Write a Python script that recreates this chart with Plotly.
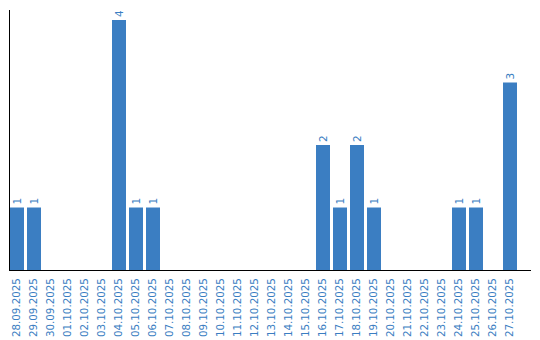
import plotly.graph_objects as go

dates = ["28.09.2025", "29.09.2025", "30.09.2025", "01.10.2025", "02.10.2025", "03.10.2025",
         "04.10.2025", "05.10.2025", "06.10.2025", "07.10.2025", "08.10.2025", "09.10.2025",
         "10.10.2025", "11.10.2025", "12.10.2025", "13.10.2025", "14.10.2025", "15.10.2025",
         "16.10.2025", "17.10.2025", "18.10.2025", "19.10.2025", "20.10.2025", "21.10.2025",
         "22.10.2025", "23.10.2025", "24.10.2025", "25.10.2025", "26.10.2025", "27.10.2025"]
counts = [1, 1, 0, 0, 0, 0, 4, 1, 1, 0, 0, 0, 0, 0, 0, 0, 0, 0,
          2, 1, 2, 1, 0, 0, 0, 0, 1, 1, 0, 3]

blue = "#3b7ec2"
labels = [str(v) if v else "" for v in counts]

fig = go.Figure(go.Bar(
    x=dates, y=counts, text=labels, textposition="outside", textangle=-90,
    textfont=dict(family="DejaVu Sans", size=10.5, color=blue),
    marker=dict(color=blue, line=dict(width=0)), cliponaxis=False,
    hoverinfo="x+y",
))

fig.update_layout(
    width=540, height=340,
    margin=dict(l=10, r=9, t=10, b=70),
    paper_bgcolor="white", plot_bgcolor="white",
    bargap=0.1765,
    showlegend=False,
    xaxis=dict(type="category", range=[-0.412, 30.235], showline=True, linecolor="black",
               linewidth=1, showgrid=False, ticks="", tickangle=-90, automargin=False,
               ticklabelstandoff=3,
               tickfont=dict(family="DejaVu Sans", size=10.3, color=blue)),
    yaxis=dict(range=[0, 4.16], showline=True, linecolor="black", linewidth=1,
               showgrid=False, zeroline=False, showticklabels=False, ticks="",
               automargin=False),
)

fig.write_html("out.html")
